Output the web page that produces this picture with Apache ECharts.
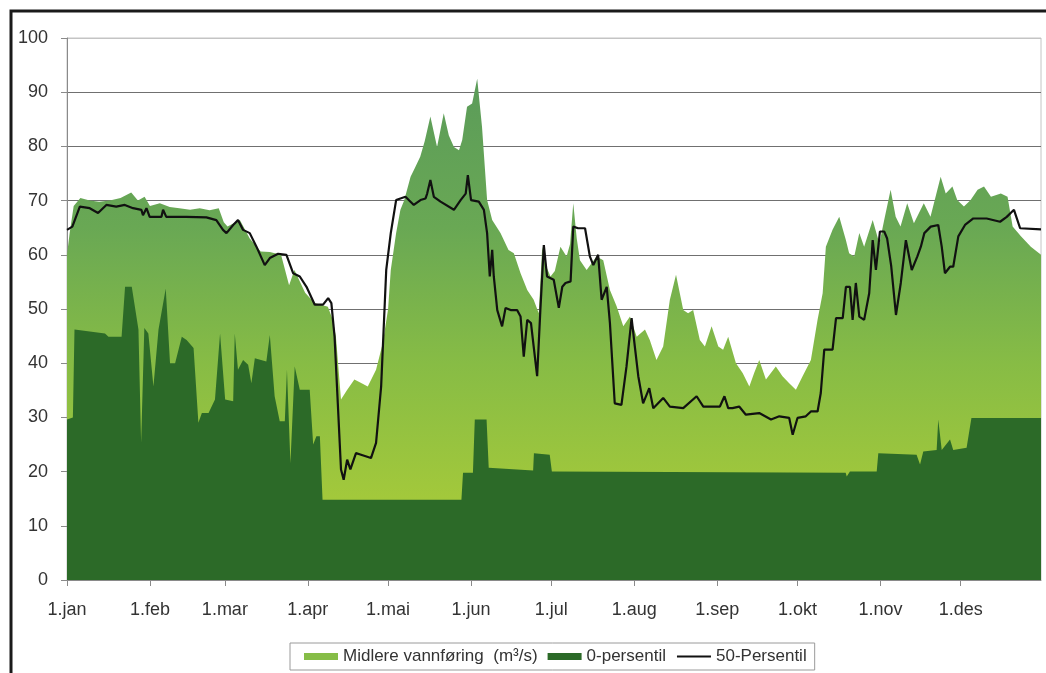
<!DOCTYPE html>
<html>
<head>
<meta charset="utf-8">
<script src="https://cdn.jsdelivr.net/npm/echarts@6/dist/echarts.min.js"></script>
<style>
  html, body { margin: 0; padding: 0; background: #fff; }
  #chart { width: 1046px; height: 673px; }
</style>
</head>
<body>
<div id="chart"></div>
<script>
// x-akse: dag i året (0 = 1.jan)
const monthStarts = [0, 31, 59, 90, 120, 151, 181, 212, 243, 273, 304, 334]
const monthLabels = ['1.jan', '1.feb', '1.mar', '1.apr', '1.mai', '1.jun', '1.jul', '1.aug', '1.sep', '1.okt', '1.nov', '1.des']

// Midlere vannføring (m³/s) [dag, verdi]
const meanFlow = [
  [0, 60], [1, 64], [2.5, 69], [5, 70.5], [8.5, 70], [12, 69.8], [16, 70], [20, 70.5], [24, 71.5],
  [26.5, 70], [29, 70.7], [31, 69], [34.7, 69.5], [38.4, 68.8], [42, 68.6], [46, 68.3], [49.6, 68.6],
  [53.3, 68.2], [56.7, 68.6], [58.6, 66], [60, 65.2], [64.6, 66.4], [68.3, 63], [72.4, 60.6],
  [75.8, 60.5], [80, 60], [83, 54.4], [85, 57.2], [89, 53], [92.5, 51.1], [97.5, 50.4], [99.3, 48],
  [100.5, 44.9], [102.4, 33.3], [104.6, 35], [107.4, 37], [109.4, 36.5], [112.4, 35.7], [115.5, 38.8],
  [118, 43.7], [120, 50], [121, 57.2], [123, 64], [124.6, 68.3], [126, 70], [128.4, 74.4], [130, 76],
  [132, 78.1], [133.7, 81], [135.8, 85.5], [138.3, 79.9], [140.8, 86.1], [142.7, 82], [144.6, 79.9],
  [146.5, 79.3], [147.7, 81.2], [149.5, 87.3], [151.4, 87.9], [153.3, 92.5], [155.1, 83.6], [157, 70.1],
  [158.9, 66.4], [162, 64], [165, 60.9], [167, 60.3], [169.5, 56.6], [172, 53.5], [174.4, 51.7],
  [176.3, 49.2], [177.6, 61.5], [179, 58], [180.7, 56], [182.3, 57], [184.4, 61.5], [186.7, 59.7],
  [188, 62], [189.2, 69.5], [190.5, 63], [191.7, 59], [194.2, 57.2], [197.9, 59.7], [200.4, 59],
  [202.9, 53.5], [205.4, 50.5], [207.9, 46.8], [210.4, 48.6], [212.9, 44.9], [216, 46.2], [217.8, 44.3],
  [220.3, 40.6], [222.8, 43.1], [225.3, 51.7], [227.6, 56.3], [230.3, 49.8], [232.1, 49.2], [234, 49.8],
  [236.5, 44.3], [238.4, 43.1], [240.9, 46.8], [243.4, 43.1], [245.2, 42.5], [247.1, 44.9], [250, 40],
  [252.5, 38.2], [255, 35.7], [256.8, 38.2], [258.7, 40.6], [261.2, 37], [264.9, 39.4], [267.4, 37.6],
  [269.9, 36.3], [272.4, 35.1], [274.9, 37.6], [278, 40.6], [280.5, 48], [282.4, 52.9], [283.6, 61.5],
  [286.1, 64.6], [288.6, 67], [291.1, 62.7], [292.3, 60.3], [294.2, 59.7], [296.1, 64], [297.9, 61.5],
  [301.1, 66.4], [303.6, 62.1], [305.4, 66.4], [307.8, 72], [309.7, 67], [311.5, 65.2], [314, 69.5],
  [316.5, 65.8], [320.2, 69.5], [322.7, 67], [326.5, 74.4], [328.4, 71.3], [330.9, 72.6], [332.7, 70.1],
  [335.2, 68.9], [337.7, 70.1], [340.3, 72], [342.7, 72.6], [345.3, 70.7], [349, 71.3], [351.5, 70.7],
  [353.4, 65.2], [356.5, 63.4], [360.2, 61.5], [364, 60]
]

// 0-persentil [dag, verdi]
const minPct = [
  [0, 29.6], [2.2, 30], [2.8, 46.2], [14.2, 45.5], [15.5, 44.9], [20.4, 44.9], [21.7, 54.1], [24.2, 54.1],
  [26.7, 46.2], [27.7, 25.3], [28.9, 46.5], [30.4, 45.5], [32.3, 35.7], [34.2, 46.2], [36.9, 53.8],
  [38.5, 40], [40.4, 40], [42.9, 44.9], [44.7, 44.3], [47.3, 42.8], [49.1, 29], [50.4, 30.8], [52.9, 30.8],
  [55.3, 33.3], [57.2, 45.5], [59.1, 33.3], [62.1, 33], [62.7, 45.5], [63.9, 38.8], [65.8, 40.6],
  [67.7, 39.7], [68.9, 36.3], [70.2, 40.9], [74.5, 40.3], [75.8, 45.2], [77.6, 33.9], [79.5, 29.3],
  [81.4, 29.3], [82.2, 38.8], [83.5, 21.6], [85.1, 39.4], [87, 35.1], [90.7, 35.1], [92, 25], [93.2, 26.5],
  [94.5, 26.5], [95.5, 14.8], [147.4, 14.8], [148, 19.8], [151.7, 19.8], [152.4, 29.6], [156.8, 29.6],
  [157.6, 20.7], [174.2, 20.2], [174.5, 23.4], [180.4, 23.1], [181.2, 20], [291, 19.8], [291.4, 19.1],
  [292.6, 20], [302.6, 20], [303.2, 23.4], [317.5, 23.1], [318.8, 21.3], [320, 23.7], [325, 24],
  [325.6, 29.6], [326.9, 24], [330, 25.9], [331.2, 24], [336.2, 24.4], [338, 29.9], [364, 29.9]
]

// 50-Persentil [dag, verdi]
const medianPct = [
  [0, 64.6], [2, 65.2], [4.8, 68.9], [8.5, 68.6], [11.6, 67.7], [14.7, 69.2], [18.4, 68.9], [21.6, 69.2],
  [24.7, 68.6], [27.8, 68.3], [28.4, 67.3], [29.7, 68.6], [30.9, 67], [35.3, 67], [35.9, 68.3], [37.1, 67],
  [44.6, 67], [52.1, 66.9], [55.8, 66.4], [58.3, 64.6], [59.6, 64], [62.1, 65.5], [63.9, 66.4],
  [65.8, 64.6], [68.3, 64], [70.8, 61.5], [73.9, 58.1], [75.8, 59.4], [78.9, 60.2], [82, 60], [84.5, 56.6],
  [87, 56], [89.5, 54.1], [92.6, 50.8], [95.7, 50.8], [97.6, 52], [98.8, 51.1], [100, 44.9], [101.2, 32.6],
  [102.4, 20.4], [103.4, 18.5], [104.7, 22.2], [105.9, 20.4], [108, 23.4], [109.9, 23.1], [113.6, 22.5],
  [115.5, 25.3], [117.4, 35.7], [119.3, 57.2], [121, 64], [123, 70.1], [124.6, 70.4], [126.5, 70.7],
  [129.6, 69.2], [132.1, 70.1], [134, 70.4], [134.6, 71.3], [135.8, 73.8], [137.1, 70.7], [139.6, 69.8],
  [144.6, 68.3], [147.1, 70.1], [149, 71.3], [149.8, 74.7], [151, 70.1], [153.9, 69.8], [155.8, 68.3],
  [157, 64], [158, 56], [158.9, 60.9], [159.5, 56], [160.8, 49.8], [162.6, 46.8], [163.9, 50.2],
  [165.8, 49.8], [168.2, 49.8], [169.5, 48.6], [170.7, 41.2], [172, 48], [173.4, 47.4], [174.4, 43.1],
  [175.7, 37.6], [176.9, 49.8], [178.2, 61.8], [179.4, 56], [181.9, 55.4], [183.8, 50.2], [185.1, 54.1],
  [186.3, 54.8], [188.2, 55.1], [189.2, 65.2], [191, 64.9], [193.6, 64.9], [195.4, 59.7], [196.7, 58.1],
  [198.5, 60], [199.8, 51.7], [201.7, 54.1], [202.9, 47.4], [204.7, 32.6], [207.2, 32.3], [209.1, 39.4],
  [211, 48.3], [212.2, 43.1], [213.5, 37.6], [215.3, 32.6], [217.6, 35.4], [219.1, 31.7], [222.8, 33.6],
  [225.3, 32], [230.3, 31.7], [235.3, 33.9], [237.8, 32], [244, 32], [245.7, 33.9], [247.1, 31.7],
  [248.7, 31.7], [251.2, 32], [253.7, 30.5], [258.7, 30.8], [263.1, 29.6], [266.2, 30.2], [269.9, 29.9],
  [271.2, 26.8], [273, 29.9], [276.1, 30.2], [278, 31.1], [280.5, 31.1], [281.7, 34.5], [283, 42.5],
  [286.1, 42.5], [287.4, 48.3], [289.9, 48.3], [291.1, 54.1], [292.6, 54.1], [293.6, 48], [294.8, 54.8],
  [296.1, 48.6], [297.9, 48], [299.8, 52.9], [301.1, 62.7], [302.3, 57.2], [303.8, 64.3], [305.4, 64.3],
  [306.5, 63], [308, 58], [309.8, 48.9], [311.6, 54.8], [313.5, 62.7], [315.7, 57.2], [317.8, 59.7],
  [319.1, 61.5], [320.4, 64], [322.8, 65.2], [325.6, 65.5], [326.9, 61.5], [328.1, 56.6], [330, 57.8],
  [331.2, 57.8], [333.1, 63.4], [335.6, 65.5], [338.7, 66.7], [343.7, 66.7], [348.7, 66.1], [351.2, 67],
  [353.9, 68.3], [356.2, 64.9], [364, 64.7]
]

const yTicks = [0, 10, 20, 30, 40, 50, 60, 70, 80, 90, 100]

const chart = echarts.init(document.getElementById('chart'), null, { renderer: 'canvas' })

const option = {
  backgroundColor: '#ffffff',
  animation: false,
  textStyle: { fontFamily: 'Liberation Sans, Arial, sans-serif' },
  // ytre ramme
  graphic: [
    {
      type: 'rect',
      shape: { x: 11, y: 11, width: 1045, height: 680 },
      style: { fill: null, stroke: '#1a1a1a', lineWidth: 3 },
      silent: true,
      z: 100
    }
  ],
  grid: {
    left: 67,
    right: 5,
    top: 38,
    bottom: 93,
    show: true,
    borderColor: '#c4c4c4',
    borderWidth: 1,
    backgroundColor: 'transparent'
  },
  legend: {
    left: 290,
    top: 643,
    padding: [5, 8, 5, 14],
    borderColor: '#9a9a9a',
    borderWidth: 1,
    itemWidth: 34,
    itemHeight: 7,
    itemGap: 10,
    textStyle: { fontSize: 17, color: '#333', fontFamily: 'Liberation Sans, Arial, sans-serif' },
    data: [
      { name: 'Midlere vannføring  (m³/s)', icon: 'rect', itemStyle: { color: '#86bd47' } },
      { name: '0-persentil', icon: 'rect', itemStyle: { color: '#2c6a28' } },
      {
        name: '50-Persentil',
        itemStyle: { color: 'rgba(0,0,0,0)', borderColor: 'rgba(0,0,0,0)', borderWidth: 0 },
        lineStyle: { color: '#111', width: 2 }
      }
    ]
  },
  xAxis: {
    type: 'value',
    min: 0,
    max: 364,
    axisLine: { show: true, lineStyle: { color: '#8a8a8a', width: 1 } },
    axisTick: {
      show: true,
      length: 6,
      customValues: monthStarts,
      lineStyle: { color: '#8a8a8a' }
    },
    axisLabel: {
      customValues: monthStarts,
      margin: 21,
      fontSize: 18,
      color: '#333',
      formatter: (v) => monthLabels[monthStarts.indexOf(v)] ?? ''
    },
    splitLine: { show: false }
  },
  yAxis: {
    type: 'value',
    min: 0,
    max: 100,
    interval: 10,
    axisLine: { show: true, lineStyle: { color: '#8a8a8a', width: 1 } },
    axisTick: { show: true, length: 6, lineStyle: { color: '#8a8a8a' } },
    axisLabel: {
      margin: 19,
      fontSize: 18,
      color: '#333',
      formatter: (v) => (yTicks.includes(v) ? String(v) : '')
    },
    splitLine: {
      show: true,
      lineStyle: {
        color: ['#707070', '#707070', '#707070', '#707070', '#707070', '#707070',
          '#707070', '#707070', '#707070', '#707070', '#c4c4c4'],
        width: 1.2
      }
    }
  },
  series: [
    {
      name: 'Midlere vannføring  (m³/s)',
      type: 'line',
      data: meanFlow,
      showSymbol: false,
      symbol: 'none',
      lineStyle: { width: 0 },
      itemStyle: { color: '#86bd47' },
      areaStyle: {
        opacity: 1,
        color: {
          type: 'linear',
          x: 0, y: 38, x2: 0, y2: 580,
          global: true,
          colorStops: [
            { offset: 0, color: '#57985b' },
            { offset: 0.35, color: '#69a854' },
            { offset: 0.6, color: '#87bc45' },
            { offset: 1, color: '#b3d035' }
          ]
        }
      },
      z: 2
    },
    {
      name: '0-persentil',
      type: 'line',
      data: minPct,
      showSymbol: false,
      symbol: 'none',
      lineStyle: { width: 0 },
      itemStyle: { color: '#2c6a28' },
      areaStyle: { color: '#2c6a28', opacity: 1 },
      z: 3
    },
    {
      name: '50-Persentil',
      type: 'line',
      data: medianPct,
      showSymbol: false,
      symbol: 'none',
      lineStyle: { width: 2.2, color: '#111' },
      itemStyle: { color: '#111' },
      z: 4
    }
  ]
}

chart.setOption(option)
window.addEventListener('resize', () => chart.resize())
</script>
</body>
</html>
